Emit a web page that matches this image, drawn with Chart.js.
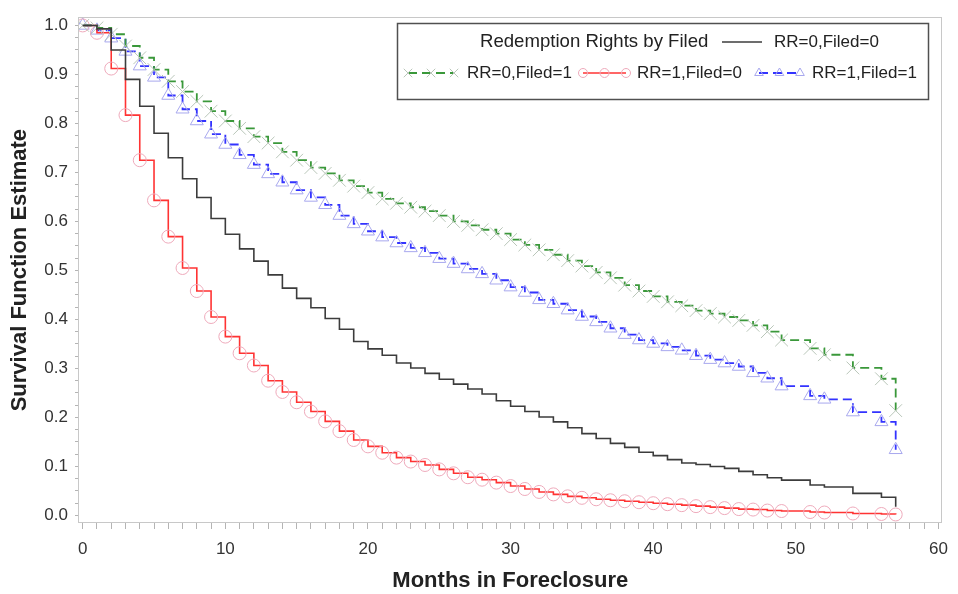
<!DOCTYPE html>
<html>
<head>
<meta charset="utf-8">
<script src="https://cdn.jsdelivr.net/npm/chart.js@4.4.1/dist/chart.umd.min.js"></script>
<style>
  html, body { margin: 0; padding: 0; background: #fff; }
  #wrap { width: 958px; height: 594px; }
</style>
</head>
<body>
<div id="wrap"><canvas id="survChart" width="958" height="594"></canvas></div>
<script>
// months at which the estimates are reported (shared by all four groups)
const months = [0, 1, 2, 3, 4, 5, 6, 7, 8, 9,
  10, 11, 12, 13, 14, 15, 16, 17, 18, 19,
  20, 21, 22, 23, 24, 25, 26, 27, 28, 29,
  30, 31, 32, 33, 34, 35, 36, 37, 38, 39,
  40, 41, 42, 43, 44, 45, 46, 47, 48, 49,
  51, 52, 54, 56, 57];

// survival estimates
const rr0Filed0 = [1.000, 0.993, 0.950, 0.890, 0.835, 0.780, 0.730, 0.687, 0.649, 0.606,
  0.574, 0.544, 0.519, 0.491, 0.464, 0.443, 0.424, 0.402, 0.380, 0.355,
  0.340, 0.327, 0.311, 0.301, 0.290, 0.278, 0.268, 0.258, 0.248, 0.234,
  0.223, 0.212, 0.201, 0.191, 0.179, 0.167, 0.157, 0.147, 0.139, 0.129,
  0.122, 0.114, 0.107, 0.104, 0.100, 0.096, 0.090, 0.083, 0.077, 0.072,
  0.062, 0.058, 0.045, 0.037, 0.018];

const rr0Filed1 = [1.000, 0.995, 0.982, 0.958, 0.934, 0.910, 0.886, 0.865, 0.845, 0.825,
  0.805, 0.790, 0.773, 0.760, 0.742, 0.725, 0.710, 0.698, 0.684, 0.672,
  0.659, 0.646, 0.637, 0.629, 0.621, 0.612, 0.600, 0.592, 0.583, 0.575,
  0.563, 0.552, 0.542, 0.532, 0.520, 0.509, 0.496, 0.485, 0.470, 0.458,
  0.447, 0.436, 0.428, 0.418, 0.412, 0.405, 0.398, 0.388, 0.375, 0.358,
  0.341, 0.328, 0.301, 0.279, 0.214];

const rr1Filed0 = [1.000, 0.985, 0.912, 0.817, 0.725, 0.643, 0.569, 0.505, 0.458, 0.405,
  0.365, 0.331, 0.306, 0.275, 0.252, 0.231, 0.212, 0.192, 0.172, 0.154,
  0.141, 0.128, 0.118, 0.110, 0.103, 0.094, 0.086, 0.078, 0.073, 0.067,
  0.060, 0.054, 0.048, 0.043, 0.039, 0.036, 0.033, 0.031, 0.029, 0.027,
  0.025, 0.023, 0.021, 0.019, 0.017, 0.015, 0.013, 0.012, 0.010, 0.009,
  0.007, 0.006, 0.004, 0.003, 0.002];

const rr1Filed1 = [1.000, 0.990, 0.974, 0.947, 0.917, 0.894, 0.857, 0.829, 0.805, 0.778,
  0.757, 0.736, 0.716, 0.697, 0.680, 0.664, 0.649, 0.634, 0.612, 0.595,
  0.580, 0.568, 0.556, 0.546, 0.536, 0.524, 0.514, 0.503, 0.493, 0.480,
  0.466, 0.455, 0.440, 0.432, 0.419, 0.406, 0.395, 0.382, 0.369, 0.358,
  0.351, 0.344, 0.337, 0.326, 0.318, 0.311, 0.304, 0.291, 0.280, 0.264,
  0.244, 0.237, 0.211, 0.191, 0.134];

const groupLabels = ['RR=0,Filed=0', 'RR=0,Filed=1', 'RR=1,Filed=0', 'RR=1,Filed=1'];
const legendTitle = 'Redemption Rights by Filed';

// labelled ticks; minor ticks fall between them
const xMajorTicks = [0, 10, 20, 30, 40, 50, 60];
const yMajorTicks = [0.0, 0.1, 0.2, 0.3, 0.4, 0.5, 0.6, 0.7, 0.8, 0.9, 1.0];

const FONT = '"Liberation Sans", Arial, Helvetica, sans-serif';

function toPoints(ys) {
  return months.map((m, i) => ({ x: m, y: ys[i] }));
}

function minorTicks(majors, perMajor) {
  const out = [];
  for (let i = 0; i < majors.length - 1; i++) {
    const step = (majors[i + 1] - majors[i]) / perMajor;
    for (let k = 0; k < perMajor; k++) out.push(majors[i] + k * step);
  }
  out.push(majors[majors.length - 1]);
  return out;
}

const isMajor = (v, majors) => majors.some(m => Math.abs(m - v) < 1e-6);

// light grey box around the plot area
const plotFrame = {
  id: 'plotFrame',
  beforeDatasetsDraw(chart) {
    const { ctx, chartArea: a } = chart;
    ctx.save();
    ctx.strokeStyle = '#c8c8c8';
    ctx.lineWidth = 1;
    ctx.strokeRect(Math.round(a.left) - 0.5, Math.round(a.top) + 0.5,
      Math.round(a.right - a.left), Math.round(a.bottom - a.top) - 1);
    ctx.restore();
  }
};

// SAS style inset legend: title and first entry on row one, three entries on row two
const insetLegend = {
  id: 'insetLegend',
  afterDraw(chart) {
    const ctx = chart.ctx;
    const ds = chart.data.datasets;
    const box = { x: 397, y: 23, w: 531, h: 76 };
    const row1 = 42, row2 = 73;

    ctx.save();
    ctx.fillStyle = '#fff';
    ctx.fillRect(box.x, box.y, box.w, box.h);
    ctx.strokeStyle = '#505050';
    ctx.lineWidth = 1.5;
    ctx.strokeRect(box.x + 0.5, box.y + 0.5, box.w, box.h);

    ctx.textBaseline = 'middle';
    ctx.fillStyle = '#222';
    ctx.font = '18.6px ' + FONT;
    ctx.fillText(legendTitle, 480, row1);

    const items = [
      { d: ds[0], x0: 722, x1: 762, y: row1, tx: 774 },
      { d: ds[1], x0: 408, x1: 454, y: row2, tx: 467 },
      { d: ds[2], x0: 583, x1: 626, y: row2, tx: 637 },
      { d: ds[3], x0: 759, x1: 800, y: row2, tx: 812 }
    ];
    items.forEach(it => {
      const d = it.d;
      ctx.save();
      ctx.strokeStyle = d.borderColor;
      ctx.lineWidth = d.borderWidth;
      ctx.setLineDash(d.borderDash || []);
      ctx.beginPath();
      ctx.moveTo(it.x0, it.y);
      ctx.lineTo(it.x1, it.y);
      ctx.stroke();
      ctx.restore();
      if (d.pointRadius > 0) {
        [it.x0, (it.x0 + it.x1) / 2, it.x1].forEach(px => {
          ctx.save();
          ctx.strokeStyle = d.pointBorderColor;
          ctx.fillStyle = 'rgba(0,0,0,0)';
          ctx.lineWidth = 1;
          Chart.helpers.drawPoint(ctx, {
            pointStyle: d.pointStyle, radius: d.legendRadius, rotation: 0, borderWidth: 1
          }, px, it.y);
          ctx.restore();
        });
      }
      ctx.fillStyle = '#222';
      ctx.font = '17px ' + FONT;
      ctx.fillText(d.label, it.tx, it.y);
    });
    ctx.restore();
  }
};

const xTicks = minorTicks(xMajorTicks, 10);
const yTicks = minorTicks(yMajorTicks, 4);

new Chart(document.getElementById('survChart'), {
  type: 'line',
  data: {
    datasets: [
      {
        label: groupLabels[0], data: toPoints(rr0Filed0), stepped: 'before',
        borderColor: '#3c3c3c', borderWidth: 1.6, pointRadius: 0, fill: false, order: 1
      },
      {
        label: groupLabels[1], data: toPoints(rr0Filed1), stepped: 'before',
        borderColor: '#3a983a', borderWidth: 1.8, borderDash: [9, 5],
        pointStyle: 'crossRot', pointRadius: 9, legendRadius: 6,
        pointBorderColor: '#b9c6b9', pointBorderWidth: 1, pointBackgroundColor: 'rgba(0,0,0,0)',
        fill: false, order: 2
      },
      {
        label: groupLabels[2], data: toPoints(rr1Filed0), stepped: 'before',
        borderColor: '#ff3333', borderWidth: 1.6,
        pointStyle: 'circle', pointRadius: 6.5, legendRadius: 4.5,
        pointBorderColor: '#eeaabb', pointBorderWidth: 1, pointBackgroundColor: 'rgba(0,0,0,0)',
        fill: false, order: 3
      },
      {
        label: groupLabels[3], data: toPoints(rr1Filed1), stepped: 'before',
        borderColor: '#3333ff', borderWidth: 1.8, borderDash: [9, 5],
        pointStyle: 'triangle', pointRadius: 7.5, legendRadius: 5,
        pointBorderColor: '#a8a8ee', pointBorderWidth: 1, pointBackgroundColor: 'rgba(0,0,0,0)',
        fill: false, order: 4
      }
    ]
  },
  options: {
    responsive: false,
    animation: false,
    devicePixelRatio: 1,
    layout: { padding: { top: 7, right: 16, bottom: 0, left: 0 } },
    plugins: {
      legend: { display: false },
      tooltip: { enabled: false }
    },
    scales: {
      x: {
        type: 'linear',
        min: -0.26,
        max: 60.22,
        afterBuildTicks: axis => { axis.ticks = xTicks.map(v => ({ value: v })); },
        afterFit: axis => { axis.height = 71; },
        border: { display: false },
        grid: { drawOnChartArea: false, tickLength: 6, color: '#b4b4b4' },
        ticks: {
          autoSkip: false, maxRotation: 0, padding: 10, color: '#333',
          font: { size: 17, family: FONT },
          callback: v => isMajor(v, xMajorTicks) ? String(Math.round(v)) : ''
        },
        title: {
          display: true, text: 'Months in Foreclosure', color: '#222', padding: 0,
          font: { size: 22, weight: 'bold', family: FONT, lineHeight: '26px' }
        }
      },
      y: {
        type: 'linear',
        min: -0.0154,
        max: 1.0168,
        afterBuildTicks: axis => { axis.ticks = yTicks.map(v => ({ value: v })); },
        afterFit: axis => { axis.width = 79; },
        border: { display: false },
        grid: { drawOnChartArea: false, tickLength: 4, color: '#b4b4b4' },
        ticks: {
          autoSkip: false, padding: 7, color: '#333',
          font: { size: 17, family: FONT },
          callback: v => isMajor(v, yMajorTicks) ? v.toFixed(1) : ''
        },
        title: {
          display: true, text: 'Survival Function Estimate', color: '#222', padding: 0,
          font: { size: 22, weight: 'bold', family: FONT, lineHeight: '40px' }
        }
      }
    }
  },
  plugins: [plotFrame, insetLegend]
});
</script>
</body>
</html>
